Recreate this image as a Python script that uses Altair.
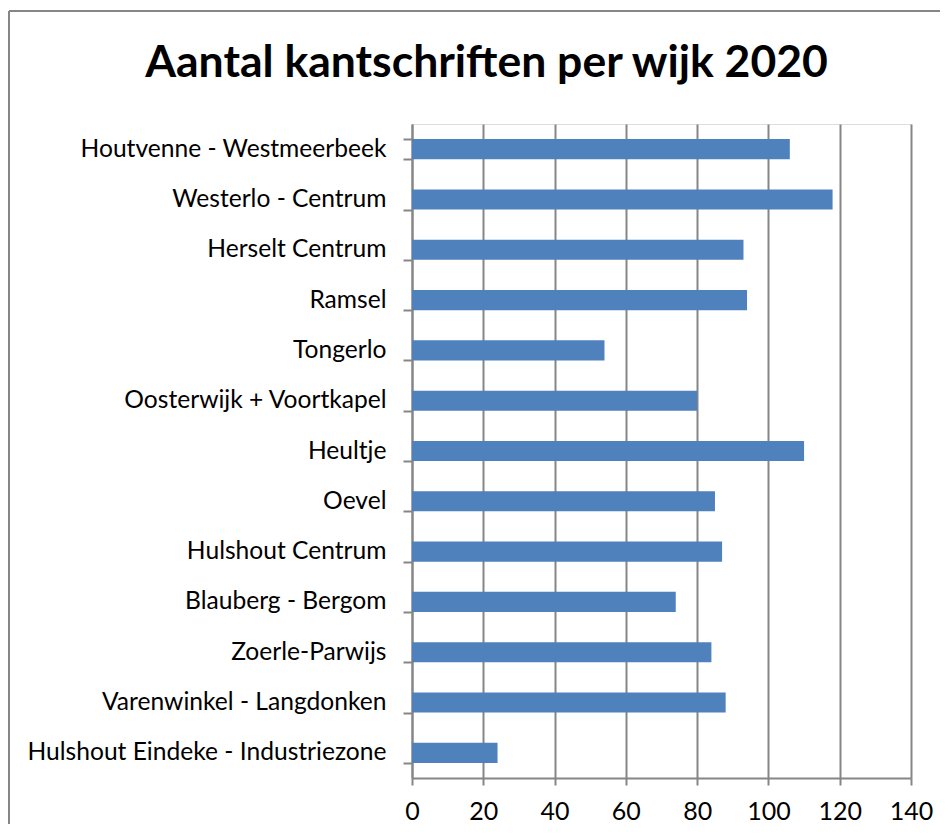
import altair as alt
import pandas as pd

wijken = [
    "Houtvenne - Westmeerbeek",
    "Westerlo - Centrum",
    "Herselt Centrum",
    "Ramsel",
    "Tongerlo",
    "Oosterwijk + Voortkapel",
    "Heultje",
    "Oevel",
    "Hulshout Centrum",
    "Blauberg - Bergom",
    "Zoerle-Parwijs",
    "Varenwinkel - Langdonken",
    "Hulshout Eindeke - Industriezone",
]
aantallen = [106, 118, 93, 94, 54, 80, 110, 85, 87, 74, 84, 88, 24]
x_ticks = [0, 20, 40, 60, 80, 100, 120, 140]

df = pd.DataFrame({"wijk": wijken, "aantal": aantallen})

W, H = 499, 654
PAD_L, PAD_T, PAD_R, PAD_B = 404, 116, 29, 46
GRAY = "#868686"
FONT = "Lato"

bars = alt.Chart(df).mark_bar(color="#4F81BD").encode(
    y=alt.Y(
        "wijk:N",
        sort=wijken,
        title=None,
        scale=alt.Scale(paddingInner=0.6, paddingOuter=0.3),
        axis=alt.Axis(
            tickBand="extent",
            tickSize=9,
            tickColor=GRAY,
            tickWidth=2,
            domainColor=GRAY,
            domainWidth=2,
            labelPadding=17,
            labelLimit=0,
            labelFont=FONT,
            labelFontSize=24.6,
            labelColor="black",
            grid=False,
        ),
    ),
    x=alt.X(
        "aantal:Q",
        title=None,
        scale=alt.Scale(domain=[0, 140], nice=False, zero=True),
        axis=alt.Axis(
            values=x_ticks,
            grid=True,
            gridColor=GRAY,
            gridWidth=2,
            tickSize=7,
            tickColor=GRAY,
            tickWidth=2,
            domainColor=GRAY,
            domainWidth=2,
            labelPadding=14,
            labelFlush=False,
            labelFont=FONT,
            labelFontSize=25,
            labelColor="black",
        ),
    ),
)

frame_src = alt.Chart(pd.DataFrame({"a": [0]}))
top_border = frame_src.mark_rule(color=GRAY, strokeWidth=2).encode(
    x=alt.value(-PAD_L + 1), x2=alt.value(W + PAD_R), y=alt.value(-PAD_T + 3)
)
left_border = frame_src.mark_rule(color=GRAY, strokeWidth=2).encode(
    x=alt.value(-PAD_L + 1), y=alt.value(-PAD_T + 3), y2=alt.value(H + PAD_B)
)

chart = (
    alt.layer(bars, top_border, left_border)
    .properties(
        width=W,
        height=H,
        padding={"left": PAD_L, "top": PAD_T, "right": PAD_R, "bottom": PAD_B},
        autosize=alt.AutoSizeParams(type="none"),
        title=alt.TitleParams(
            "Aantal kantschriften per wijk 2020",
            font=FONT,
            fontSize=44.5,
            fontWeight="bold",
            color="black",
            anchor="middle",
            dx=-175,
            baseline="alphabetic",
            offset=-111,
        ),
    )
    .configure_view(stroke=None)
    .configure(background="white")
)

chart.save("out.html", embed_options={"renderer": "svg", "actions": False})
